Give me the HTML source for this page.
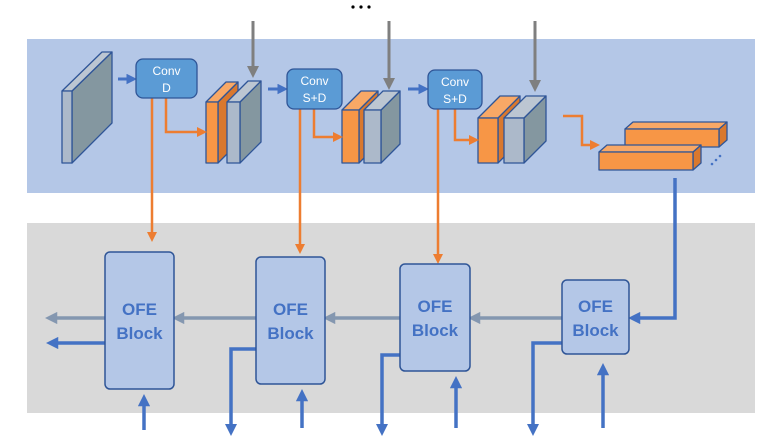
<!DOCTYPE html>
<html><head><style>html,body{margin:0;padding:0;background:#fff;}svg{display:block;}</style></head>
<body>
<svg width="764" height="436" viewBox="0 0 764 436" xmlns="http://www.w3.org/2000/svg" font-family="Liberation Sans, sans-serif">
<defs>
<marker id="ag" markerWidth="4" markerHeight="4" refX="2" refY="2" orient="auto" markerUnits="strokeWidth"><path d="M0,0 L4,2 L0,4 z" fill="#7f7f7f"/></marker>
<marker id="ao" markerWidth="4" markerHeight="4" refX="2" refY="2" orient="auto" markerUnits="strokeWidth"><path d="M0,0 L4,2 L0,4 z" fill="#ed7d31"/></marker>
<marker id="ab" markerWidth="3.5" markerHeight="3.5" refX="1.5" refY="1.75" orient="auto" markerUnits="strokeWidth"><path d="M0,0 L3.5,1.75 L0,3.5 z" fill="#4472c4"/></marker>
<marker id="as" markerWidth="3.5" markerHeight="3.5" refX="1.5" refY="1.75" orient="auto" markerUnits="strokeWidth"><path d="M0,0 L3.5,1.75 L0,3.5 z" fill="#8497b0"/></marker>
</defs>
<rect x="27" y="39" width="728" height="154" fill="#b4c7e7"/>
<rect x="27" y="223" width="728" height="190" fill="#d9d9d9"/>
<!-- dots -->
<circle cx="353" cy="7" r="1.6" fill="#000"/><circle cx="361" cy="7" r="1.6" fill="#000"/><circle cx="369" cy="7" r="1.6" fill="#000"/>
<!-- gray input arrows -->
<g stroke="#7f7f7f" stroke-width="3" fill="none" marker-end="url(#ag)">
<line x1="253" y1="21" x2="253" y2="72"/><line x1="389" y1="21" x2="389" y2="84"/><line x1="535" y1="21" x2="535" y2="86"/>
</g>
<!-- big slab -->
<g stroke="#2f5597" stroke-width="1.3" stroke-linejoin="round">
<polygon points="72,91 112,52 112,123 72,163" fill="#8497a0"/>
<polygon points="62,91 102,52 112,52 72,91" fill="#bcc6d2"/>
<rect x="62" y="91" width="10" height="72" fill="#acb9ca"/>
</g>
<!-- pair1 -->
<g stroke="#2f5597" stroke-width="1.3" stroke-linejoin="round">
<polygon points="218,102 238,82 238,143 218,163" fill="#d9782e"/>
<polygon points="206,102 226,82 238,82 218,102" fill="#f8a866"/>
<rect x="206" y="102" width="12" height="61" fill="#f79646"/>
<polygon points="240,102 261,81 261,142 240,163" fill="#8497a0"/>
<polygon points="227,102 248,81 261,81 240,102" fill="#bcc6d2"/>
<rect x="227" y="102" width="13" height="61" fill="#acb9ca"/>
</g>
<!-- pair2 -->
<g stroke="#2f5597" stroke-width="1.3" stroke-linejoin="round">
<polygon points="359,110 378,91 378,144 359,163" fill="#d9782e"/>
<polygon points="342,110 361,91 378,91 359,110" fill="#f8a866"/>
<rect x="342" y="110" width="17" height="53" fill="#f79646"/>
<polygon points="381,110 400,91 400,144 381,163" fill="#8497a0"/>
<polygon points="364,110 383,91 400,91 381,110" fill="#bcc6d2"/>
<rect x="364" y="110" width="17" height="53" fill="#acb9ca"/>
</g>
<!-- pair3 -->
<g stroke="#2f5597" stroke-width="1.3" stroke-linejoin="round">
<polygon points="498,118 520,96 520,141 498,163" fill="#d9782e"/>
<polygon points="478,118 500,96 520,96 498,118" fill="#f8a866"/>
<rect x="478" y="118" width="20" height="45" fill="#f79646"/>
<polygon points="524,118 546,96 546,141 524,163" fill="#8497a0"/>
<polygon points="504,118 526,96 546,96 524,118" fill="#bcc6d2"/>
<rect x="504" y="118" width="20" height="45" fill="#acb9ca"/>
</g>
<!-- bars -->
<g stroke="#2f5597" stroke-width="1.3" stroke-linejoin="round">
<polygon points="719,129 727,122 727,140 719,147" fill="#d9782e"/>
<polygon points="625,129 633,122 727,122 719,129" fill="#f8a866"/>
<rect x="625" y="129" width="94" height="18" fill="#f79646"/>
<polygon points="693,152 701,145 701,163 693,170" fill="#d9782e"/>
<polygon points="599,152 607,145 701,145 693,152" fill="#f8a866"/>
<rect x="599" y="152" width="94" height="18" fill="#f79646"/>
</g>
<circle cx="712" cy="164" r="1.3" fill="#4472c4"/><circle cx="716" cy="160" r="1.3" fill="#4472c4"/><circle cx="720" cy="156" r="1.3" fill="#4472c4"/>
<!-- orange arrows -->
<g stroke="#ed7d31" stroke-width="2.5" fill="none" marker-end="url(#ao)">
<polyline points="166,98 166,132 202,132"/>
<polyline points="314,109 314,137 338,137"/>
<polyline points="455,109 455,140 474,140"/>
<polyline points="563,116 582,116 582,145 595,145"/>
<line x1="152" y1="98" x2="152" y2="237"/>
<line x1="300" y1="109" x2="300" y2="249"/>
<line x1="438" y1="109" x2="438" y2="259"/>
</g>
<!-- blue small arrows to conv -->
<g stroke="#4472c4" stroke-width="3" fill="none" marker-end="url(#ab)">
<line x1="118" y1="79" x2="131" y2="79"/>
<line x1="268" y1="89" x2="282" y2="89"/>
<line x1="408" y1="89" x2="423" y2="89"/>
</g>
<!-- conv boxes -->
<g fill="#5b9bd5" stroke="#2f5597" stroke-width="1.3">
<rect x="136" y="59" width="61" height="39" rx="7"/>
<rect x="287" y="69" width="55" height="40" rx="7"/>
<rect x="428" y="70" width="54" height="39" rx="7"/>
</g>
<g fill="#fff" font-size="12" text-anchor="middle">
<text x="166.5" y="75">Conv</text><text x="166.5" y="92">D</text>
<text x="314.5" y="85">Conv</text><text x="314.5" y="102">S+D</text>
<text x="455" y="86">Conv</text><text x="455" y="103">S+D</text>
</g>
<!-- bottom connections -->
<g stroke="#8497b0" stroke-width="3.5" fill="none" marker-end="url(#as)">
<line x1="105" y1="318" x2="52" y2="318"/>
<line x1="256" y1="318" x2="179" y2="318"/>
<line x1="400" y1="318" x2="330" y2="318"/>
<line x1="562" y1="318" x2="475" y2="318"/>
</g>
<g stroke="#4472c4" stroke-width="3.5" fill="none" marker-end="url(#ab)">
<line x1="105" y1="343" x2="53" y2="343"/>
<polyline points="675,178 675,318 635,318"/>
<polyline points="256,349 231,349 231,429"/>
<polyline points="400,355 382,355 382,429"/>
<polyline points="562,343 533,343 533,429"/>
<line x1="144" y1="430" x2="144" y2="401"/>
<line x1="302" y1="428" x2="302" y2="396"/>
<line x1="456" y1="428" x2="456" y2="383"/>
<line x1="603" y1="428" x2="603" y2="370"/>
</g>
<!-- OFE blocks -->
<g fill="#b4c7e7" stroke="#2f5597" stroke-width="1.5">
<rect x="105" y="252" width="69" height="137" rx="5"/>
<rect x="256" y="257" width="69" height="127" rx="5"/>
<rect x="400" y="264" width="70" height="107" rx="5"/>
<rect x="562" y="280" width="67" height="74" rx="5"/>
</g>
<g fill="#4472c4" font-size="17" font-weight="bold" text-anchor="middle">
<text x="139.5" y="315">OFE</text><text x="139.5" y="339">Block</text>
<text x="290.5" y="315">OFE</text><text x="290.5" y="339">Block</text>
<text x="435" y="312">OFE</text><text x="435" y="336">Block</text>
<text x="595.5" y="312">OFE</text><text x="595.5" y="336">Block</text>
</g>
</svg>
</body></html>
